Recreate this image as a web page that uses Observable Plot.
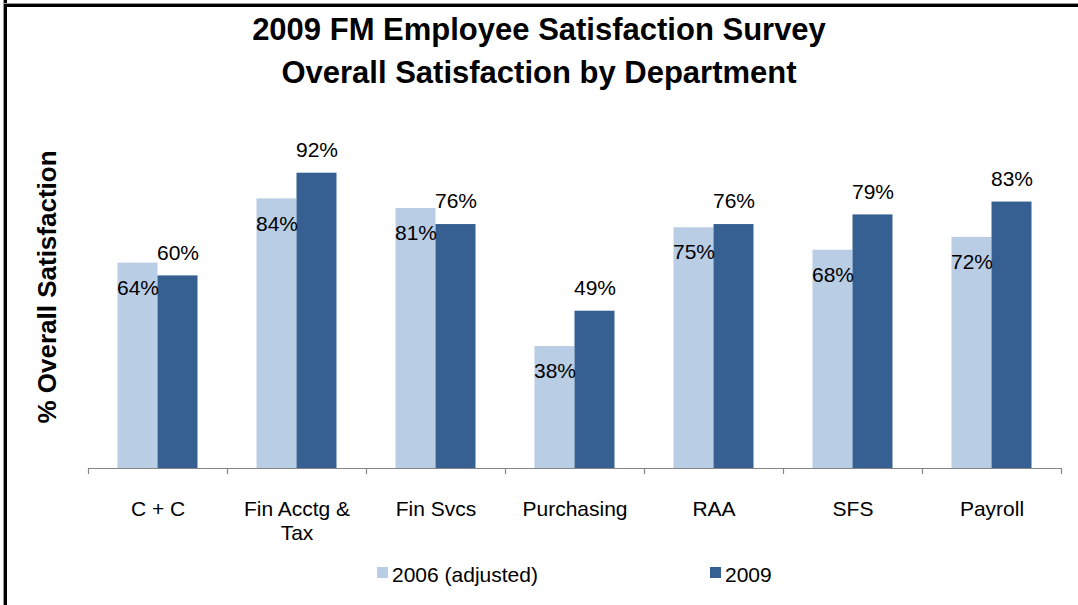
<!DOCTYPE html>
<html>
<head>
<meta charset="utf-8">
<script src="https://cdn.jsdelivr.net/npm/d3@7"></script>
<script src="https://cdn.jsdelivr.net/npm/@observablehq/plot@0.6"></script>
<style>
  html, body { margin: 0; padding: 0; background: #fff; }
  #wrap { position: relative; width: 1078px; height: 605px; overflow: hidden; background: #fff;
          font-family: "Liberation Sans", Arial, sans-serif; color: #000; }
  .bl { position: absolute; }
  #title { position: absolute; left: 0; width: 1078px; top: 8px; text-align: center;
           font-size: 31px; font-weight: bold; line-height: 43px; padding-left: 0; }
  #chart { position: absolute; left: 0; top: 0; }
  .lg-sw { position: absolute; width: 11px; height: 11px; top: 567px; }
  .lg-tx { position: absolute; top: 564px; font-size: 21px; line-height: 1; white-space: nowrap; }
</style>
</head>
<body>
<div id="wrap">
  <div class="bl" style="left:3px;top:0;width:1px;height:605px;background:#999"></div>
  <div class="bl" style="left:4px;top:0;width:3px;height:605px;background:#000"></div>
  <div class="bl" style="left:3px;top:3px;right:0;height:1px;background:#999"></div>
  <div class="bl" style="left:4px;top:4px;right:0;height:3px;background:#000"></div>
  <div id="title"></div>
  <div id="chart"></div>
  <div id="legend"></div>
</div>
<script>
// ---- data ----
const titleLines = ["2009 FM Employee Satisfaction Survey", "Overall Satisfaction by Department"];
const yLabel = "% Overall Satisfaction";
const departments = ["C + C", "Fin Acctg & Tax", "Fin Svcs", "Purchasing", "RAA", "SFS", "Payroll"];
const tickLabels = ["C + C", "Fin Acctg &\nTax", "Fin Svcs", "Purchasing", "RAA", "SFS", "Payroll"];
const seriesNames = ["2006 (adjusted)", "2009"];
const values2006 = [64, 84, 81, 38, 75, 68, 72];
const values2009 = [60, 92, 76, 49, 76, 79, 83];

// ---- styles ----
const colors = ["#B9CDE5", "#376092"];
const W = 1078, H = 555;
const mL = 88, mR = 17, mT = 147, mB = 87;
const bw = (W - mL - mR) / departments.length;
const barW = 40;

const rows2006 = departments.map((d, i) => ({dept: d, v: values2006[i]}));
const rows2009 = departments.map((d, i) => ({dept: d, v: values2009[i]}));

document.getElementById("title").innerHTML = titleLines.map(t => `<div>${t}</div>`).join("");

const chart = Plot.plot({
  width: W, height: H,
  marginLeft: mL, marginRight: mR, marginTop: mT, marginBottom: mB,
  style: {fontFamily: "'Liberation Sans', Arial, sans-serif", color: "#000", background: "transparent", overflow: "visible"},
  x: {type: "band", domain: departments, padding: 0, axis: null},
  y: {domain: [0, 100], axis: null},
  marks: [
    Plot.barY(rows2006, {x: "dept", y: "v", fill: colors[0], insetLeft: bw / 2 - barW, insetRight: bw / 2}),
    Plot.barY(rows2009, {x: "dept", y: "v", fill: colors[1], insetLeft: bw / 2, insetRight: bw / 2 - barW}),
    Plot.ruleY([0], {stroke: "#868686", strokeWidth: 1.2}),
    Plot.ruleX(departments, {x: d => d, y1: 0, y2: -1.9, dx: -bw / 2, stroke: "#868686", strokeWidth: 1.2}),
    Plot.ruleX([departments[departments.length - 1]], {x: d => d, y1: 0, y2: -1.9, dx: bw / 2, stroke: "#868686", strokeWidth: 1.2}),
    Plot.text(rows2006, {x: "dept", y: "v", text: d => `${d.v}%`, dx: -barW / 2, dy: 25, fontSize: 21, fill: "#000"}),
    Plot.text(rows2009, {x: "dept", y: "v", text: d => `${d.v}%`, dx: barW / 2, dy: -23, fontSize: 21, fill: "#000"}),
    Plot.text(departments, {x: d => d, text: (d, i) => tickLabels[i], frameAnchor: "bottom", lineAnchor: "top", dy: 30, fontSize: 21, lineHeight: 1.16, fill: "#000"}),
    Plot.text([yLabel], {frameAnchor: "left", textAnchor: "middle", lineAnchor: "middle", rotate: -90, dx: -41, dy: -21, fontSize: 26, fontWeight: "bold", fill: "#000"})
  ]
});
document.getElementById("chart").appendChild(chart);

// legend
const legendX = [377, 710];
const legend = document.getElementById("legend");
seriesNames.forEach((name, i) => {
  const sw = document.createElement("div");
  sw.className = "lg-sw";
  sw.style.left = legendX[i] + "px";
  sw.style.background = colors[i];
  const tx = document.createElement("div");
  tx.className = "lg-tx";
  tx.style.left = (legendX[i] + 15) + "px";
  tx.textContent = name;
  legend.appendChild(sw);
  legend.appendChild(tx);
});
</script>
</body>
</html>
